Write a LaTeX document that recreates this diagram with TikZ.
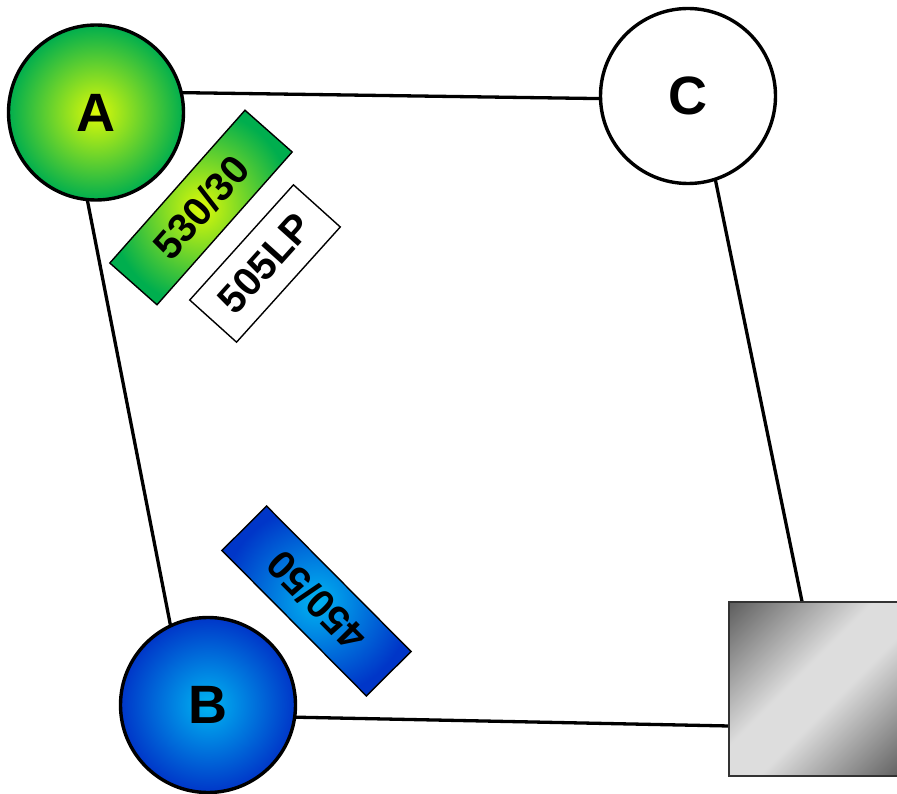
\documentclass[tikz,border=0pt]{standalone}
\usepackage{fontspec}
\setmainfont{Liberation Sans}
\usetikzlibrary{backgrounds}
\definecolor{ayellow}{HTML}{DCFA08}
\definecolor{agreen}{HTML}{00AE4E}
\definecolor{bcyan}{HTML}{00B4F2}
\definecolor{bblue}{HTML}{0036C8}
\definecolor{gdark}{HTML}{5E5E5E}
\definecolor{glight}{HTML}{DDDDDD}
\pgfdeclareverticalshading{sqshade}{100bp}{color(0bp)=(gdark); color(14.6bp)=(gdark); color(44bp)=(glight); color(56bp)=(glight); color(85.4bp)=(gdark); color(100bp)=(gdark)}
\begin{document}
\begin{tikzpicture}[x=1pt,y=-1pt,
  ball/.style={circle,draw=black,line width=3.4pt,minimum size=175pt,inner sep=0pt,outer sep=0pt,
    font=\fontsize{54}{54}\selectfont\bfseries},
  tagbox/.style={rectangle,draw=black,line width=1.4pt,inner sep=0pt,outer sep=0pt,
    minimum height=63pt,font=\fontsize{40}{40}\selectfont\bfseries},
  link/.style={draw=black,line width=3.3pt}
]
\useasboundingbox (0,0) rectangle (897,794);
\clip (0,0) rectangle (897,794);
% corners of the frame
\coordinate (k1) at (66,91);
\coordinate (k2) at (699,100);
\coordinate (k3) at (828,728);
\coordinate (k4) at (188,715);
\draw[link] (k1) -- (k2) -- (k3) -- (k4) -- cycle;
% nodes
\node[ball,shading=radial,inner color=ayellow,outer color=agreen] (A) at (96,112.5) {A};
\node[ball,fill=white] (C) at (688,96) {C};
\node[ball,shading=radial,inner color=bcyan,outer color=bblue] (B) at (208,705) {B};
\node[rectangle,draw=black!80,line width=2.2pt,minimum size=174pt,inner sep=0pt,
  shading=sqshade,shading angle=45] (D) at (816,689) {};
% filter tags
\node[tagbox,minimum width=204pt,rotate=48.5,shading=radial,inner color=ayellow,outer color=agreen] (f1) at (201,207.5) {530/30};
\node[tagbox,minimum width=155pt,rotate=48,fill=white] (f2) at (265,263.5) {505LP};
\node[tagbox,minimum width=205pt,rotate=134.8,shading=radial,inner color=bcyan,outer color=bblue] (f3) at (316.5,601) {450/50};
\end{tikzpicture}
\end{document}
